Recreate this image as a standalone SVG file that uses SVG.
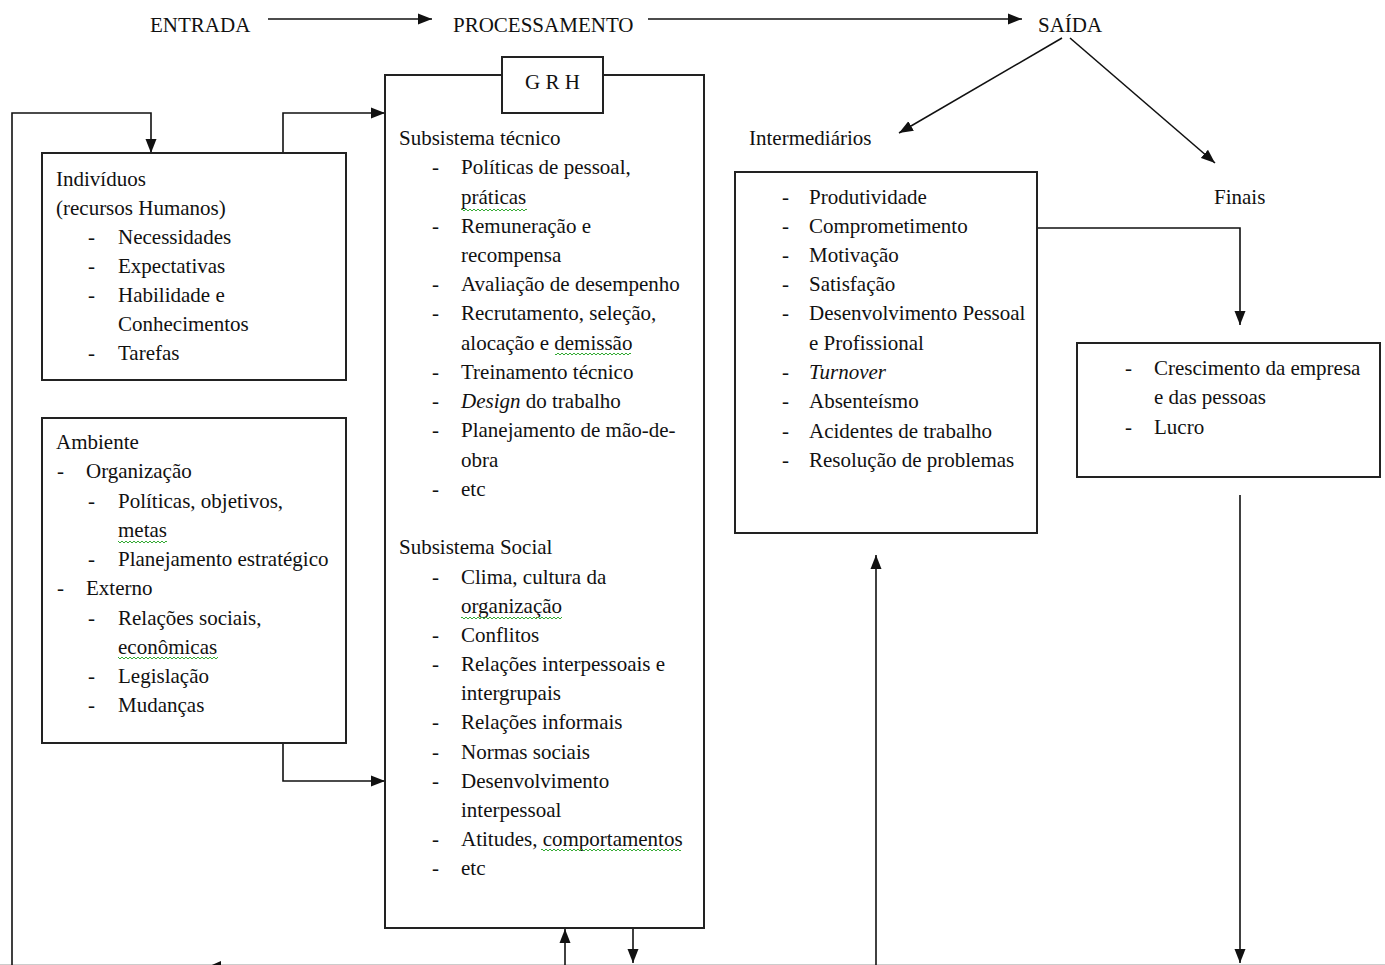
<svg xmlns="http://www.w3.org/2000/svg" width="1385" height="965" viewBox="0 0 1385 965">
<style>
text{font-family:"Liberation Serif","Times New Roman",serif;font-size:21px;fill:#111}
.box{fill:#fff;stroke:#222;stroke-width:2}
.c{fill:none;stroke:#111;stroke-width:1.6}
.i{font-style:italic}
.w{fill:url(#wavy)}
</style>
<defs>
<marker id="ah" markerUnits="userSpaceOnUse" markerWidth="14" markerHeight="12" refX="14" refY="6" orient="auto">
<path d="M0,0.5 L14,6 L0,11.5 z" fill="#111"/>
</marker>
<pattern id="wavy" patternUnits="userSpaceOnUse" width="4" height="4">
<path d="M0,3 L2,1 L4,3" fill="none" stroke="#3a3" stroke-width="1"/>
</pattern>
</defs>
<rect width="1385" height="965" fill="#fff"/>
<line x1="0" y1="964.5" x2="1385" y2="964.5" stroke="#ccc" stroke-width="1"/>

<g id="header">
<text x="150" y="32">ENTRADA</text>
<text x="453" y="32">PROCESSAMENTO</text>
<text x="1038" y="32">SAÍDA</text>
<text x="749" y="145">Intermediários</text>
<text x="1214" y="204">Finais</text>
</g>

<g id="connectors">
<line class="c" x1="268" y1="19" x2="432" y2="19" marker-end="url(#ah)"/>
<line class="c" x1="648" y1="19" x2="1022" y2="19" marker-end="url(#ah)"/>
<line class="c" x1="1062" y1="38" x2="899" y2="133" marker-end="url(#ah)"/>
<line class="c" x1="1070" y1="38" x2="1215" y2="163" marker-end="url(#ah)"/>
<polyline class="c" points="12,966 12,113 151,113 151,153" marker-end="url(#ah)"/>
<polyline class="c" points="283,153 283,113 385,113" marker-end="url(#ah)"/>
<polyline class="c" points="283,743 283,781 385,781" marker-end="url(#ah)"/>
<line class="c" x1="565" y1="966" x2="565" y2="929" marker-end="url(#ah)"/>
<line class="c" x1="633" y1="928" x2="633" y2="963" marker-end="url(#ah)"/>
<polyline class="c" points="1037,228 1240,228 1240,325" marker-end="url(#ah)"/>
<line class="c" x1="1240" y1="495" x2="1240" y2="963" marker-end="url(#ah)"/>
<line class="c" x1="876" y1="966" x2="876" y2="555" marker-end="url(#ah)"/>
<path d="M205,968 L221,961 L221,975 z" fill="#111"/>
</g>

<g id="processamento">
<rect class="box" x="385" y="75" width="319" height="853"/>
<text x="399" y="145">Subsistema técnico</text>
<g>
<text x="432" y="174">-</text><text x="461" y="174">Políticas de pessoal,</text>
<text x="461" y="204">práticas</text>
<text x="432" y="233">-</text><text x="461" y="233">Remuneração e</text>
<text x="461" y="262">recompensa</text>
<text x="432" y="291">-</text><text x="461" y="291">Avaliação de desempenho</text>
<text x="432" y="320">-</text><text x="461" y="320">Recrutamento, seleção,</text>
<text x="461" y="350">alocação e demissão</text>
<text x="432" y="379">-</text><text x="461" y="379">Treinamento técnico</text>
<text x="432" y="408">-</text><text x="461" y="408"><tspan class="i">Design</tspan> do trabalho</text>
<text x="432" y="437">-</text><text x="461" y="437">Planejamento de mão-de-</text>
<text x="461" y="467">obra</text>
<text x="432" y="496">-</text><text x="461" y="496">etc</text>
</g>
<text x="399" y="554">Subsistema Social</text>
<g>
<text x="432" y="584">-</text><text x="461" y="584">Clima, cultura da</text>
<text x="461" y="613">organização</text>
<text x="432" y="642">-</text><text x="461" y="642">Conflitos</text>
<text x="432" y="671">-</text><text x="461" y="671">Relações interpessoais e</text>
<text x="461" y="700">intergrupais</text>
<text x="432" y="729">-</text><text x="461" y="729">Relações informais</text>
<text x="432" y="759">-</text><text x="461" y="759">Normas sociais</text>
<text x="432" y="788">-</text><text x="461" y="788">Desenvolvimento</text>
<text x="461" y="817">interpessoal</text>
<text x="432" y="846">-</text><text x="461" y="846">Atitudes, comportamentos</text>
<text x="432" y="875">-</text><text x="461" y="875">etc</text>
</g>
<rect class="w" x="461" y="208" width="66" height="4"/>
<rect class="w" x="555" y="352" width="76" height="4"/>
<rect class="w" x="461" y="616" width="101" height="4"/>
<rect class="w" x="541" y="848" width="140" height="4"/>
</g>

<g id="grh">
<rect class="box" x="502" y="57" width="101" height="56"/>
<text x="552.5" y="89" text-anchor="middle">G R H</text>
</g>

<g id="individuos">
<rect class="box" x="42" y="153" width="304" height="227"/>
<text x="56" y="186">Indivíduos</text>
<text x="56" y="215">(recursos Humanos)</text>
<text x="88" y="244">-</text><text x="118" y="244">Necessidades</text>
<text x="88" y="273">-</text><text x="118" y="273">Expectativas</text>
<text x="88" y="302">-</text><text x="118" y="302">Habilidade e</text>
<text x="118" y="331">Conhecimentos</text>
<text x="88" y="360">-</text><text x="118" y="360">Tarefas</text>
</g>

<g id="ambiente">
<rect class="box" x="42" y="418" width="304" height="325"/>
<text x="56" y="449">Ambiente</text>
<text x="57" y="478">-</text><text x="86" y="478">Organização</text>
<text x="88" y="508">-</text><text x="118" y="508">Políticas, objetivos,</text>
<text x="118" y="537">metas</text>
<text x="88" y="566">-</text><text x="118" y="566">Planejamento estratégico</text>
<text x="57" y="595">-</text><text x="86" y="595">Externo</text>
<text x="88" y="625">-</text><text x="118" y="625">Relações sociais,</text>
<text x="118" y="654">econômicas</text>
<text x="88" y="683">-</text><text x="118" y="683">Legislação</text>
<text x="88" y="712">-</text><text x="118" y="712">Mudanças</text>
<rect class="w" x="118" y="540" width="49" height="4"/>
<rect class="w" x="118" y="656" width="100" height="4"/>
</g>

<g id="intermediarios">
<rect class="box" x="735" y="172" width="302" height="361"/>
<text x="782" y="204">-</text><text x="809" y="204">Produtividade</text>
<text x="782" y="233">-</text><text x="809" y="233">Comprometimento</text>
<text x="782" y="262">-</text><text x="809" y="262">Motivação</text>
<text x="782" y="291">-</text><text x="809" y="291">Satisfação</text>
<text x="782" y="320">-</text><text x="809" y="320">Desenvolvimento Pessoal</text>
<text x="809" y="350">e Profissional</text>
<text x="782" y="379">-</text><text x="809" y="379" class="i">Turnover</text>
<text x="782" y="408">-</text><text x="809" y="408">Absenteísmo</text>
<text x="782" y="438">-</text><text x="809" y="438">Acidentes de trabalho</text>
<text x="782" y="467">-</text><text x="809" y="467">Resolução de problemas</text>
</g>

<g id="finais">
<rect class="box" x="1077" y="343" width="303" height="134"/>
<text x="1125" y="375">-</text><text x="1154" y="375">Crescimento da empresa</text>
<text x="1154" y="404">e das pessoas</text>
<text x="1125" y="434">-</text><text x="1154" y="434">Lucro</text>
</g>
</svg>
